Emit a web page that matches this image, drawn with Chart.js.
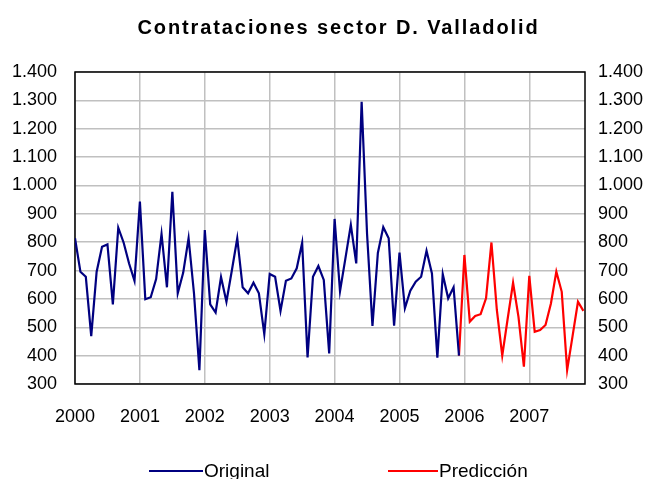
<!DOCTYPE html>
<html>
<head>
<meta charset="utf-8">
<script src="https://cdn.jsdelivr.net/npm/chart.js@4/dist/chart.umd.min.js"></script>
<style>
  body { margin: 0; background: #fff; }
  #wrap { position: relative; width: 653px; height: 479px; font-family: Arial, "Liberation Sans", sans-serif; }
  .key-line { position: absolute; height: 2px; top: 470px; }
  .key-text { position: absolute; top: 461px; font-size: 19px; line-height: 19px; color: #000; white-space: nowrap; }
</style>
</head>
<body>
<div id="wrap">
  <canvas id="chart" width="653" height="479"></canvas>
  <div class="key-line" style="left:149px;width:54px;background:#000080"></div>
  <div class="key-text" style="left:204px">Original</div>
  <div class="key-line" style="left:388px;width:50px;background:#ff0000"></div>
  <div class="key-text" style="left:439px">Predicción</div>
</div>
<script>
const canvas = document.getElementById('chart');
const ctx = canvas.getContext('2d');

const title = 'Contrataciones sector D. Valladolid';
const firstYear = 2000;
const yearTicks = [0, 12, 24, 36, 48, 60, 72, 84];   // month index of each January
const yTicks = [300, 400, 500, 600, 700, 800, 900, 1000, 1100, 1200, 1300, 1400];

// monthly values Jan 2000 - Dec 2005
const original = [
    814, 696, 678, 469, 696, 784, 792, 581, 851, 798, 725, 664,
    943, 599, 606, 670, 829, 641, 978, 620, 692, 814, 620, 349,
    843, 581, 552, 677, 590, 700, 814, 641, 620, 657, 620, 476,
    688, 678, 558, 664, 672, 708, 798, 394, 678, 716, 667, 408,
    882, 627, 743, 861, 725, 1295, 830, 505, 762, 853, 814, 506,
    763, 567, 629, 661, 678, 770, 690, 393, 687, 602, 641, 400
];

// prediction starts at Dec 2005 (month 71) and runs to Nov 2007
const predStart = 71;
const prediccion = [
    400,
    755, 520, 540, 546, 602, 799, 561, 400, 530, 657, 537, 361,
    681, 484, 490, 508, 584, 696, 625, 349, 469, 590, 558
];

function fmtThousands(v) {
    if (v < 1000) return String(v);
    return Math.floor(v / 1000) + '.' + String(v % 1000).padStart(3, '0');
}

const tickFont = { family: 'Arial, "Liberation Sans", sans-serif', size: 18 };

// wider letter spacing and a small shift for the title, like the original
const titleSpacing = {
    id: 'titleSpacing',
    afterInit(chart) {
        const block = chart.titleBlock;
        const draw = block.draw.bind(block);
        block.draw = function () {
            chart.ctx.save();
            chart.ctx.letterSpacing = '1.9px';
            chart.ctx.translate(11, 0);
            draw();
            chart.ctx.restore();
        };
    }
};

// black frame round the plot area
const plotFrame = {
    id: 'plotFrame',
    beforeDatasetsDraw(chart) {
        const a = chart.chartArea;
        const c = chart.ctx;
        c.save();
        c.strokeStyle = '#000';
        c.lineWidth = 1.5;
        c.strokeRect(a.left, a.top, a.right - a.left, a.bottom - a.top);
        c.restore();
    }
};

new Chart(ctx, {
    type: 'line',
    data: {
        datasets: [{
            label: 'Original',
            data: original.map((v, i) => ({ x: i, y: v })),
            borderColor: '#000080',
            borderWidth: 2.2,
            pointRadius: 0,
            tension: 0
        }, {
            label: 'Predicción',
            data: prediccion.map((v, i) => ({ x: predStart + i, y: v })),
            borderColor: '#ff0000',
            borderWidth: 2.2,
            pointRadius: 0,
            tension: 0
        }]
    },
    options: {
        responsive: false,
        animation: false,
        layout: { padding: { left: 12, right: 10, top: 0, bottom: 51 } },
        plugins: {
            legend: { display: false },
            tooltip: { enabled: false },
            title: {
                display: true,
                text: title,
                color: '#000',
                font: { family: 'Arial, "Liberation Sans", sans-serif', size: 20, weight: 'bold' },
                padding: { top: 16, bottom: 32 }
            }
        },
        scales: {
            x: {
                type: 'linear',
                min: 0,
                max: 94.3,
                afterBuildTicks: s => { s.ticks = yearTicks.map(v => ({ value: v })); },
                afterFit: s => { s.height = 44; },
                ticks: {
                    color: '#000',
                    font: tickFont,
                    padding: 22,
                    maxRotation: 0,
                    callback: v => String(firstYear + v / 12)
                },
                grid: { color: '#c0c0c0', lineWidth: 1.5, drawTicks: false },
                border: { display: false }
            },
            y: {
                position: 'left',
                min: 300,
                max: 1400,
                afterBuildTicks: s => { s.ticks = yTicks.map(v => ({ value: v })); },
                afterFit: s => { s.width = 63; },
                ticks: { color: '#000', font: tickFont, padding: 18, callback: v => fmtThousands(v) },
                grid: { color: '#c0c0c0', lineWidth: 1.5, drawTicks: false },
                border: { display: false }
            },
            y2: {
                position: 'right',
                min: 300,
                max: 1400,
                afterBuildTicks: s => { s.ticks = yTicks.map(v => ({ value: v })); },
                afterFit: s => { s.width = 58; },
                ticks: { color: '#000', font: tickFont, padding: 13, callback: v => fmtThousands(v) },
                grid: { display: false, drawTicks: false },
                border: { display: false }
            }
        }
    },
    plugins: [titleSpacing, plotFrame]
});
</script>
</body>
</html>
